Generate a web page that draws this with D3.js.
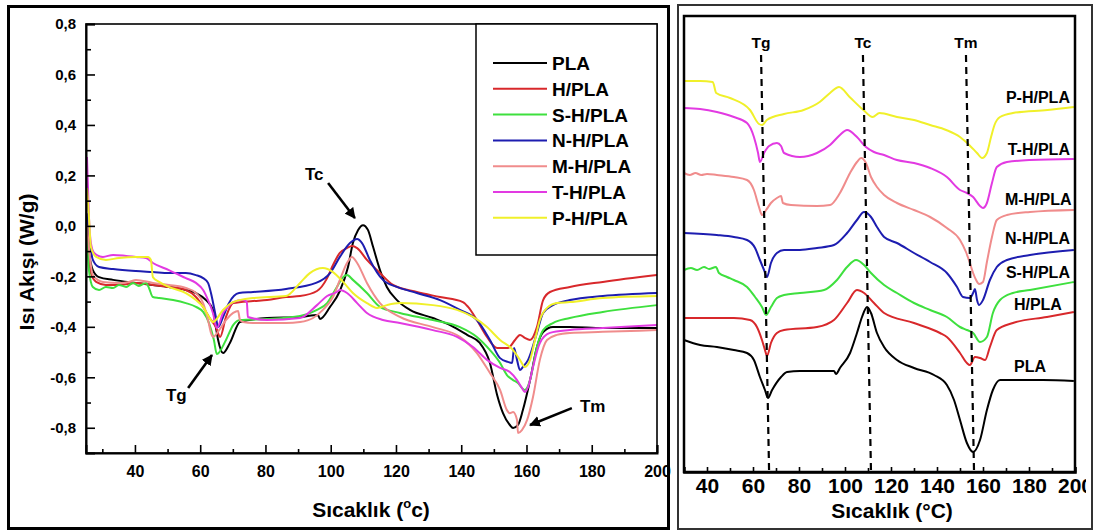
<!DOCTYPE html>
<html><head><meta charset="utf-8">
<script src="https://cdn.jsdelivr.net/npm/d3@7"></script>
<style>
body{margin:0;background:#fff}
svg{display:block}
text{font-family:"Liberation Sans",Arial,sans-serif;font-weight:bold;fill:#000}
</style>
</head><body>
<svg id="c" width="1094" height="531"></svg>
<script>
// ---------- DATA ----------
const seriesNames = ["PLA","H/PLA","S-H/PLA","N-H/PLA","M-H/PLA","T-H/PLA","P-H/PLA"];
const seriesColors = ["#000000","#d8282b","#3ee03e","#1d1db0","#f08c8c","#e23ae2","#f0f02a"];

// Left panel: heat flow (W/g) vs temperature (°C)
const leftPLA = [[25.3,0.00],[25.9,-0.10],[27.1,-0.175],[29,-0.203],[33.3,-0.214],[40.3,-0.226],[45.5,-0.234],[50.4,-0.242],[55.6,-0.254],[58.7,-0.266],[61.8,-0.294],[63.9,-0.333],[64.8,-0.401],[65.5,-0.452],[67,-0.504],[69.1,-0.464],[72.2,-0.381],[80.5,-0.365],[90.6,-0.361],[96.1,-0.353],[96.7,-0.369],[99.8,-0.321],[102.8,-0.258],[105.3,-0.163],[106.8,-0.068],[108.4,-0.016],[109.9,0.003],[111.4,-0.016],[113,-0.084],[115.1,-0.175],[117.2,-0.242],[120.3,-0.294],[124.3,-0.333],[131.3,-0.365],[136.6,-0.393],[141.8,-0.432],[145.7,-0.464],[148.8,-0.543],[151,-0.67],[152.8,-0.742],[154.9,-0.789],[155.9,-0.801],[157.4,-0.789],[158.9,-0.73],[161.1,-0.611],[163.2,-0.48],[165.1,-0.421],[168.1,-0.401],[173.3,-0.401],[183.4,-0.405],[200,-0.405]];
const leftH = [[25.3,-0.02],[26.5,-0.187],[28.1,-0.222],[31.1,-0.234],[35.1,-0.234],[40.3,-0.226],[45.5,-0.234],[50.4,-0.242],[55.6,-0.254],[58.7,-0.282],[60.9,-0.321],[62.7,-0.361],[64.8,-0.401],[66.1,-0.44],[67.9,-0.361],[70.1,-0.306],[76.2,-0.298],[80.5,-0.294],[86.3,-0.282],[90.6,-0.278],[95.8,-0.258],[98.9,-0.207],[100.7,-0.155],[102.8,-0.107],[105,-0.088],[106.5,-0.08],[108.1,-0.088],[111.1,-0.135],[115.1,-0.187],[119.1,-0.234],[126.4,-0.262],[133.5,-0.282],[140.5,-0.302],[142.1,-0.321],[144.8,-0.373],[147.9,-0.44],[151,-0.484],[154.3,-0.484],[156.5,-0.452],[158,-0.432],[159.5,-0.444],[161.1,-0.452],[163.2,-0.401],[165.1,-0.294],[167.2,-0.262],[173.3,-0.242],[183.4,-0.222],[200,-0.195]];
const leftSH = [[25.3,-0.04],[25.9,-0.175],[27.1,-0.242],[29,-0.254],[31.1,-0.242],[33.3,-0.246],[35.1,-0.234],[37.3,-0.242],[39.4,-0.226],[41.2,-0.238],[43.4,-0.226],[44.3,-0.246],[45.5,-0.282],[47.4,-0.286],[51.7,-0.294],[55.6,-0.306],[58.7,-0.321],[60.9,-0.341],[62.7,-0.385],[64.2,-0.452],[65.1,-0.508],[67.9,-0.452],[70.1,-0.393],[72.2,-0.373],[80.5,-0.369],[90.6,-0.357],[95.8,-0.333],[98.9,-0.306],[101.9,-0.242],[103.8,-0.203],[105,-0.195],[106.8,-0.214],[111.1,-0.266],[115.1,-0.321],[121.2,-0.345],[131.3,-0.373],[139.6,-0.401],[144.8,-0.44],[148.8,-0.492],[151.9,-0.543],[154,-0.591],[155.9,-0.611],[157.4,-0.623],[158.6,-0.642],[159.5,-0.65],[161.1,-0.611],[163.2,-0.48],[165.1,-0.413],[168.1,-0.385],[173.3,-0.365],[183.4,-0.341],[200,-0.314]];
const leftNH = [[25.3,0.05],[27.1,-0.135],[29,-0.163],[33.3,-0.171],[40.3,-0.179],[45.5,-0.183],[50.4,-0.187],[55.6,-0.187],[58.7,-0.195],[60.9,-0.207],[62.4,-0.226],[63.3,-0.266],[64.2,-0.321],[64.8,-0.361],[65.5,-0.401],[67,-0.361],[68.8,-0.306],[71.9,-0.266],[76.2,-0.262],[86.3,-0.25],[95.5,-0.226],[99.8,-0.187],[102.8,-0.123],[105.9,-0.068],[108.1,-0.052],[109.6,-0.068],[112,-0.135],[116,-0.214],[120.3,-0.242],[126.4,-0.266],[133.5,-0.294],[139.6,-0.333],[144.8,-0.373],[148.8,-0.452],[151.9,-0.524],[154.3,-0.539],[155.6,-0.543],[156.2,-0.484],[157.1,-0.531],[158,-0.571],[158.9,-0.559],[160.5,-0.531],[163.2,-0.424],[165.1,-0.345],[168.1,-0.314],[173.3,-0.294],[183.4,-0.278],[200,-0.266]];
const leftMH = [[25.3,0.0],[27.1,-0.195],[30.2,-0.222],[35.1,-0.226],[38.2,-0.222],[40.3,-0.214],[45.5,-0.226],[50.4,-0.234],[55.6,-0.246],[58.7,-0.266],[60.9,-0.306],[62.4,-0.373],[63.3,-0.424],[63.9,-0.44],[65.8,-0.413],[67.9,-0.373],[70.1,-0.345],[71.6,-0.337],[72.2,-0.373],[73.1,-0.381],[76.2,-0.385],[86.3,-0.385],[90.6,-0.381],[94.6,-0.365],[97.6,-0.333],[100.7,-0.282],[102.8,-0.214],[105,-0.147],[106.5,-0.123],[108.1,-0.147],[111.1,-0.226],[115.1,-0.306],[121.2,-0.361],[131.3,-0.401],[139.6,-0.44],[144.8,-0.504],[148.8,-0.583],[151.9,-0.65],[154,-0.73],[154.9,-0.742],[155.9,-0.738],[157.1,-0.769],[157.4,-0.821],[158.6,-0.809],[160.2,-0.769],[162,-0.678],[164.1,-0.531],[166.3,-0.452],[169.3,-0.432],[173.3,-0.424],[183.4,-0.42],[200,-0.413]];
const leftTH = [[25.3,0.273],[25.9,0.035],[26.5,-0.068],[27.5,-0.107],[30.2,-0.123],[33.3,-0.115],[37.3,-0.119],[40.3,-0.123],[43.4,-0.127],[45.5,-0.147],[50.4,-0.175],[55.6,-0.207],[58.7,-0.226],[60.9,-0.254],[62.4,-0.294],[63.9,-0.345],[65.1,-0.405],[67,-0.345],[68.5,-0.321],[70.1,-0.302],[73.1,-0.294],[74.3,-0.302],[74.6,-0.361],[80.5,-0.373],[90.6,-0.365],[95.8,-0.314],[98.9,-0.278],[101.9,-0.262],[102.8,-0.254],[105,-0.266],[108.1,-0.306],[111.1,-0.345],[116,-0.373],[121.2,-0.385],[131.3,-0.413],[138.7,-0.44],[143.6,-0.48],[147.9,-0.531],[151.9,-0.563],[154.9,-0.579],[157.1,-0.611],[158.6,-0.642],[159.5,-0.658],[160.5,-0.638],[162,-0.559],[164.1,-0.464],[167.2,-0.424],[173.3,-0.413],[183.4,-0.405],[200,-0.393]];
const leftPH = [[25.3,0.15],[25.9,0.035],[26.5,-0.084],[28.1,-0.123],[31.1,-0.135],[35.1,-0.127],[40.3,-0.123],[44,-0.123],[44.9,-0.135],[45.5,-0.203],[47.4,-0.222],[50.4,-0.242],[55.6,-0.266],[58.7,-0.294],[60.9,-0.321],[62.7,-0.361],[63.9,-0.381],[67,-0.333],[70.1,-0.302],[76.2,-0.286],[86.3,-0.278],[90.6,-0.226],[93.6,-0.187],[97.6,-0.167],[100.7,-0.183],[103.8,-0.222],[106.8,-0.266],[111.1,-0.306],[114.2,-0.325],[117.2,-0.314],[121.2,-0.306],[131.3,-0.314],[138.7,-0.333],[143.6,-0.361],[147.9,-0.401],[151.9,-0.452],[155.9,-0.492],[158,-0.531],[159.5,-0.559],[161.1,-0.531],[162.6,-0.452],[164.1,-0.373],[166.3,-0.325],[169.3,-0.306],[173.3,-0.302],[183.4,-0.286],[200,-0.278]];

// Right panel: stacked (offset) curves, arbitrary units vs temperature (°C)
const rightPLA = [[30,132],[37,127],[44.3,125],[51.7,122],[57.4,119],[60.4,112],[63,95],[65.2,82],[66.5,74],[68.3,82],[72.2,95],[74.8,100],[80.4,101],[87.8,101],[95.2,101],[96.1,98],[97.8,104],[102.2,119],[105.2,139],[107.4,155],[109.6,165],[111.3,159],[113.9,139],[117,125],[122.6,112],[130,104],[138.7,97],[144.3,87],[147.4,72],[150,52],[153,29],[155.7,20],[158.7,32],[161.7,62],[164.3,82],[167.4,92],[186.1,92],[199.5,91]];
const rightH = [[30,154],[51.7,154],[58.7,152],[61.7,145],[63.9,132],[65.2,122],[66.1,116],[67.8,129],[70.4,139],[73.5,142],[87.8,145],[95.2,152],[100.9,169],[105.2,182],[108.3,179],[112.6,169],[117,159],[130,149],[141.3,139],[144.3,135],[150,119],[153,109],[154.3,107],[156.5,115],[158.7,114],[160.9,112],[163,125],[166,142],[173,149],[187.8,155],[199.5,160]];
const rightSH = [[30,202],[33,204],[35.7,202],[38.7,205],[40.9,203],[43.9,205],[45.2,199],[48.7,195],[51.7,192],[57.4,185],[60.9,175],[63.9,165],[65.7,157],[67.8,165],[70.4,174],[73.5,177],[80.4,179],[90.9,182],[96.5,192],[100.9,205],[104.8,212],[108.3,207],[111.3,199],[117,187],[122.6,179],[130,169],[137,162],[144.3,155],[150,145],[153,142],[155.7,139],[158.7,130],[161.7,135],[164.3,159],[167.4,172],[173,179],[180.4,182],[199.5,190]];
const rightNH = [[30,239],[44.3,237],[51.7,235],[57.4,232],[60.9,224],[63,212],[64.8,202],[66.1,195],[67.8,209],[70.4,219],[73.5,222],[80.4,222],[87.8,224],[95.2,227],[100.9,239],[105.2,252],[108.3,260],[111.3,255],[113.9,245],[117,235],[122.6,229],[130,219],[137,210],[144.3,199],[148.7,185],[151.3,175],[154.3,174],[155.7,179],[156.5,183],[157.4,172],[158.3,167],[160,172],[163,192],[166,205],[170.4,212],[180.4,217],[199.5,222]];
const rightMH = [[30,299],[32.5,297],[35,299],[37.5,297],[40,298],[44.3,297],[51.7,295],[57.4,292],[60.4,282],[62.6,265],[63.9,257],[65.7,262],[67.8,269],[70.4,274],[72.2,276],[73,269],[76.5,267],[87.8,266],[93.5,267],[97.8,279],[102.2,299],[105.2,310],[107,314],[109.1,309],[111.3,295],[113.9,285],[117,277],[122.6,269],[130,262],[137,255],[144.3,244],[150,232],[152.6,220],[154.3,209],[155.7,199],[157,192],[158.3,188],[160,190],[161.7,210],[163.9,235],[166,252],[170.4,257],[180.4,260],[199.5,262]];
const rightTH = [[30,364],[37,363],[44.3,360],[51.7,355],[57.4,349],[60.4,335],[62.2,319],[63,310],[64.8,319],[67,326],[70.4,329],[72.2,326],[73.5,319],[80.4,315],[87.8,319],[93.5,327],[97.8,337],[100.9,342],[105.2,335],[109.1,325],[112.6,320],[117,317],[122.6,312],[130,309],[137,304],[144.3,295],[150,282],[153,279],[155.7,275],[158.7,266],[160,264],[161.7,269],[163.9,289],[166,305],[170.4,310],[180.4,312],[199.5,313]];
const rightPH = [[30,391],[37,391],[42.5,390],[44,379],[50,374],[58.7,362],[62.6,348],[64,347],[66,352],[73.5,358],[82,362],[89,370],[93.5,379],[97.4,385],[102,375],[108,362],[112,355],[115,359],[122.6,355],[130,352],[137,347],[144,342],[150,335],[154,327],[157.4,319],[159.6,314],[161.7,319],[163.5,335],[165,347],[167.4,355],[173,359],[188,362],[199.5,365]];

const leftYTicks = [-0.8,-0.6,-0.4,-0.2,0.0,0.2,0.4,0.6,0.8];
const leftYMinor = [-0.7,-0.5,-0.3,-0.1,0.1,0.3,0.5,0.7];
const leftXTicks = [40,60,80,100,120,140,160,180,200];
const leftXMinor = [30,50,70,90,110,130,150,170,190];
const rightXTicks = [40,60,80,100,120,140,160,180,200];
const rightXMinor = [50,70,90,110,130,150,170,190];

// transition markers on the right panel: [label, T at top, T at bottom]
const transitions = [["Tg",63.5,67.0],["Tc",107.8,111.3],["Tm",152.6,156.1]];
// left panel annotations: label, text pos [T,v], arrow from [T,v] to [T,v]
const leftNotes = [
  {t:"Tc", at:[92.1,0.182], from:[99.2,0.170], to:[107.4,0.031]},
  {t:"Tg", at:[49.5,-0.694], from:[56.3,-0.642], to:[63.6,-0.512]},
  {t:"Tm", at:[176.4,-0.738], from:[173.9,-0.722], to:[161.1,-0.789]}
];
// right panel curve labels: [name, T (right end), a.u.]
const rightLabels = [["P-H/PLA",197.8,369],["T-H/PLA",197.8,317],["M-H/PLA",198.5,267],["N-H/PLA",197.8,228],["S-H/PLA",197.8,194],["H/PLA",194.3,162],["PLA",187.4,100]];

const leftData = [leftPLA,leftH,leftSH,leftNH,leftMH,leftTH,leftPH];
const rightData = [rightPLA,rightH,rightSH,rightNH,rightMH,rightTH,rightPH];

// ---------- DRAW ----------
const svg = d3.select("#c");
const defs = svg.append("defs");
defs.append("marker").attr("id","ah").attr("viewBox","0 0 10 10").attr("refX",9).attr("refY",5)
  .attr("markerWidth",4.2).attr("markerHeight",4.2).attr("orient","auto")
  .append("path").attr("d","M0,0 L10,5 L0,10 z").attr("fill","#000");
defs.append("clipPath").attr("id","rclip").append("rect").attr("x",676).attr("y",0).attr("width",410).attr("height",531);

// ===== Left panel =====
const xL = d3.scaleLinear().domain([25,200]).range([86,657]);
const yL = d3.scaleLinear().domain([-0.9,0.8]).range([453,24]);
const L = svg.append("g");

L.append("rect").attr("x",8.5).attr("y",6.5).attr("width",660).attr("height",522)
  .attr("fill","none").attr("stroke","#000").attr("stroke-width",3);

const lineL = d3.line().x(d=>xL(d[0])).y(d=>yL(d[1])).curve(d3.curveMonotoneX);
leftData.forEach((s,i)=>{
  L.append("path").datum(s).attr("d",lineL).attr("fill","none")
   .attr("stroke",seriesColors[i]).attr("stroke-width",2).attr("stroke-linejoin","round");
});

// plot box
L.append("rect").attr("x",86).attr("y",24).attr("width",571).attr("height",429)
  .attr("fill","none").attr("stroke","#000").attr("stroke-width",1.6);

const fmt = v => v.toFixed(1).replace(".",",");
const axY = L.append("g").attr("transform","translate(86,0)")
  .call(d3.axisLeft(yL).tickValues(leftYTicks).tickSize(-9).tickPadding(10).tickFormat(fmt));
axY.select(".domain").attr("stroke-width",2);
axY.selectAll(".tick line").attr("stroke-width",1.6);
axY.selectAll("text").attr("font-size",15).attr("font-family","Liberation Sans, Arial").attr("font-weight","bold");
L.append("g").attr("transform","translate(86,0)")
  .call(d3.axisLeft(yL).tickValues(leftYMinor).tickSize(-5).tickFormat(""))
  .call(g=>g.select(".domain").remove()).selectAll(".tick line").attr("stroke-width",1.6);

const axX = L.append("g").attr("transform","translate(0,453)")
  .call(d3.axisBottom(xL).tickValues(leftXTicks).tickSize(-8).tickPadding(13).tickFormat(d3.format("d")));
axX.select(".domain").attr("stroke-width",2);
axX.selectAll(".tick line").attr("stroke-width",1.6);
axX.selectAll("text").attr("font-size",16).attr("font-family","Liberation Sans, Arial").attr("font-weight","bold");
L.append("g").attr("transform","translate(0,453)")
  .call(d3.axisBottom(xL).tickValues(leftXMinor).tickSize(-4).tickFormat(""))
  .call(g=>g.select(".domain").remove()).selectAll(".tick line").attr("stroke-width",1.6);

// axis titles
L.append("text").attr("transform","translate(34,262) rotate(-90)").attr("text-anchor","middle")
  .attr("font-size",21).text("Isı Akışı (W/g)");
const xt = L.append("text").attr("x",371).attr("y",517).attr("text-anchor","middle").attr("font-size",21);
xt.append("tspan").text("Sıcaklık (");
xt.append("tspan").attr("font-size",13).attr("dy",-9).text("o");
xt.append("tspan").attr("dy",9).text("c)");

// legend
L.append("rect").attr("x",476).attr("y",24).attr("width",181).attr("height",231)
  .attr("fill","#fff").attr("stroke","#000").attr("stroke-width",1.5);
seriesNames.forEach((n,i)=>{
  const y = 63 + i*25.8;
  L.append("line").attr("x1",493).attr("x2",547).attr("y1",y).attr("y2",y)
    .attr("stroke",seriesColors[i]).attr("stroke-width",2);
  L.append("text").attr("x",552).attr("y",y+7).attr("font-size",19).text(n);
});

// annotations
leftNotes.forEach(a=>{
  L.append("text").attr("x",xL(a.at[0])).attr("y",yL(a.at[1])).attr("font-size",17).text(a.t);
  L.append("line").attr("x1",xL(a.from[0])).attr("y1",yL(a.from[1]))
    .attr("x2",xL(a.to[0])).attr("y2",yL(a.to[1]))
    .attr("stroke","#000").attr("stroke-width",2.6).attr("marker-end","url(#ah)");
});

// ===== Right panel =====
const xR = d3.scaleLinear().domain([30,200]).range([684,1075]);
const yR = d3.scaleLinear().domain([0,456]).range([472,16]);
const R = svg.append("g").attr("clip-path","url(#rclip)");

const lineR = d3.line().x(d=>xR(d[0])).y(d=>yR(d[1])).curve(d3.curveMonotoneX);
rightData.forEach((s,i)=>{
  R.append("path").datum(s).attr("d",lineR).attr("fill","none")
   .attr("stroke",seriesColors[i]).attr("stroke-width",2).attr("stroke-linejoin","round");
});

transitions.forEach(t=>{
  R.append("line").attr("x1",xR(t[1])).attr("y1",yR(417)).attr("x2",xR(t[2])).attr("y2",yR(0))
    .attr("stroke","#000").attr("stroke-width",2.2).attr("stroke-dasharray","7,5");
  R.append("text").attr("x",xR(t[1])).attr("y",yR(424)).attr("text-anchor","middle").attr("font-size",15.5).text(t[0]);
});

rightLabels.forEach(l=>{
  R.append("text").attr("x",xR(l[1])).attr("y",yR(l[2])).attr("text-anchor","end").attr("font-size",16).text(l[0]);
});

R.append("rect").attr("x",684).attr("y",16).attr("width",391).attr("height",456)
  .attr("fill","none").attr("stroke","#000").attr("stroke-width",2.5);

const axR = R.append("g").attr("transform","translate(0,472)")
  .call(d3.axisBottom(xR).tickValues(rightXTicks).tickSize(-5).tickPadding(6).tickFormat(d3.format("d")));
axR.select(".domain").attr("stroke-width",2.5);
axR.selectAll(".tick line").attr("stroke-width",1.6);
axR.selectAll("text").attr("font-size",21).attr("font-family","Liberation Sans, Arial").attr("font-weight","bold");
R.append("g").attr("transform","translate(0,472)")
  .call(d3.axisBottom(xR).tickValues(rightXMinor).tickSize(-4).tickFormat(""))
  .call(g=>g.select(".domain").remove()).selectAll(".tick line").attr("stroke-width",1.6);

R.append("text").attr("x",892).attr("y",518).attr("text-anchor","middle").attr("font-size",21).text("Sıcaklık (°C)");

svg.append("rect").attr("x",678).attr("y",5).attr("width",414).attr("height",524)
  .attr("fill","none").attr("stroke","#333").attr("stroke-width",2);
</script>
</body></html>
